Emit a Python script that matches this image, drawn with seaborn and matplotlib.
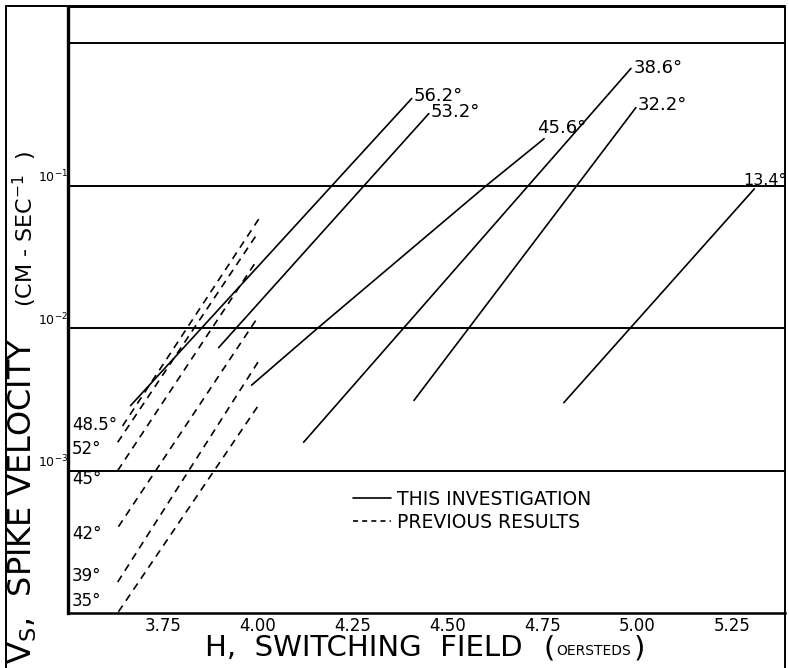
import numpy as np
import pandas as pd
import seaborn as sns
import matplotlib.pyplot as plt
from matplotlib.lines import Line2D

# this investigation (solid), angle labels at the upper end
SOLID_ANGLES = ["56.2°", "53.2°", "45.6°", "38.6°", "32.2°", "13.4°"]
SOLID_H = [
    [3.665, 4.406],
    [3.897, 4.451],
    [3.984, 4.158, 4.602, 4.755],
    [4.121, 4.984],
    [4.412, 4.997],
    [4.807, 5.309],
]
SOLID_V = [
    [2.86e-3, 0.41],
    [7.3e-3, 0.321],
    [3.98e-3, 0.01, 0.1, 0.214],
    [1.58e-3, 0.667],
    [3.11e-3, 0.354],
    [3.0e-3, 0.095],
]

# previous results (dashed), angle labels at the lower end
PREV_ANGLES = ["48.5°", "52°", "45°", "42°", "39°", "35°"]
PREV_H = [
    [3.644, 4.005],
    [3.631, 3.995],
    [3.631, 3.997],
    [3.633, 3.995],
    [3.631, 4.003],
    [3.633, 4.000],
]
PREV_V = [
    [2.06e-3, 0.0596],
    [1.58e-3, 0.0444],
    [1.0e-3, 0.0297],
    [4.04e-4, 0.01135],
    [1.65e-4, 5.9e-3],
    [1.02e-4, 2.82e-3],
]

X_TICKS = [3.75, 4.00, 4.25, 4.50, 4.75, 5.00, 5.25]
X_TICK_LABELS = ["3.75", "4.00", "4.25", "4.50", "4.75", "5.00", "5.25"]
Y_TICKS = [1e-3, 1e-2, 1e-1, 1.0]
Y_TICK_LABELS = [r"$10^{-3}$", r"$10^{-2}$", r"$10^{-1}$", ""]

LEGEND_LABELS = ["THIS INVESTIGATION", "PREVIOUS RESULTS"]

W, H = 789, 668

# label offsets in points (styling only)
SOLID_LABEL_OFFSETS = [(1, 2), (1, 1), (-5, 1), (2, 0), (1, 2), (-8, 1)]
SOLID_LABEL_VA = ["center", "center", "bottom", "center", "center", "bottom"]
SOLID_LABEL_SIZE = [13, 13, 13, 13, 13, 11.5]
PREV_LABEL_OFFSETS = [(0, 1), (0, -5), (0, -6), (0, -5), (0, 4), (0, 8)]


def fx(px):
    return px / W


def fy(py):
    return 1 - py / H


def build_frame():
    rows = []
    for name, hs, vs in zip(SOLID_ANGLES, SOLID_H, SOLID_V):
        for h, v in zip(hs, vs):
            rows.append({"H": h, "V": v, "angle": "s" + name, "source": "this"})
    for name, hs, vs in zip(PREV_ANGLES, PREV_H, PREV_V):
        for h, v in zip(hs, vs):
            rows.append({"H": h, "V": v, "angle": "p" + name, "source": "prev"})
    return pd.DataFrame(rows)


sns.set_style("white")
plt.rcParams["font.family"] = ["DejaVu Sans"]
plt.rcParams["text.color"] = "black"
plt.rcParams["xtick.color"] = "black"
plt.rcParams["ytick.color"] = "black"

fig = plt.figure(figsize=(W / 100, H / 100), dpi=100)
ax = fig.add_axes([fx(68), fy(613), fx(785) - fx(68), fy(7) - fy(613)])

df = build_frame()
sns.lineplot(data=df, x="H", y="V", units="angle", estimator=None, sort=False,
             style="source", dashes={"this": "", "prev": (4.5, 3.5)},
             color="black", linewidth=1.2, legend=False, ax=ax)

ax.set_yscale("log")
ax.set_xlim(3.5, 5.39)
ax.set_ylim(1e-4, 1.8)

for v in Y_TICKS:
    ax.axhline(v, color="black", linewidth=1.4, zorder=1)

ax.set_xticks(X_TICKS)
ax.set_xticklabels(X_TICK_LABELS, fontsize=12)
ax.set_yticks(Y_TICKS)
ax.set_yticklabels(Y_TICK_LABELS, fontsize=9)
ax.yaxis.set_minor_locator(plt.NullLocator())
ax.tick_params(axis="x", direction="inout", length=6, width=1, pad=0)
ax.tick_params(axis="y", length=0, pad=0)
for lbl in ax.get_yticklabels():
    lbl.set_verticalalignment("bottom")
ax.set_xlabel("")
ax.set_ylabel("")

for side in ["left", "bottom", "top", "right"]:
    ax.spines[side].set_visible(True)
    ax.spines[side].set_color("black")
ax.spines["left"].set_linewidth(2.4)
ax.spines["bottom"].set_linewidth(1.8)
ax.spines["top"].set_linewidth(1.4)
ax.spines["right"].set_linewidth(1.4)

# angle labels
for name, hs, vs, off, va, fs in zip(SOLID_ANGLES, SOLID_H, SOLID_V, SOLID_LABEL_OFFSETS,
                                     SOLID_LABEL_VA, SOLID_LABEL_SIZE):
    ax.annotate(name, (hs[-1], vs[-1]), xytext=off, textcoords="offset points",
                ha="left", va=va, fontsize=fs)
for name, vs, off in zip(PREV_ANGLES, PREV_V, PREV_LABEL_OFFSETS):
    ax.annotate(name, (3.5, vs[0]), xytext=(3 + off[0], off[1]), textcoords="offset points",
                ha="left", va="center", fontsize=12)

# legend without frame
handles = [Line2D([], [], color="black", linewidth=1.2),
           Line2D([], [], color="black", linewidth=1.2, linestyle=(0, (3, 2.5)))]
ax.legend(handles, LEGEND_LABELS, loc="upper left", frameon=False, fontsize=13.5,
          handlelength=2.0, handletextpad=0.35, labelspacing=0.2,
          borderpad=0, borderaxespad=0,
          bbox_to_anchor=(fx(353), fy(490)), bbox_transform=fig.transFigure)

# axis titles
fig.text(fx(205), fy(648), "H,  SWITCHING  FIELD", fontsize=21, ha="left", va="center")
fig.text(fx(543), fy(648), "(", fontsize=21, ha="left", va="center")
fig.text(fx(556), fy(651), "OERSTEDS", fontsize=10, ha="left", va="center")
fig.text(fx(634), fy(648), ")", fontsize=21, ha="left", va="center")

fig.text(fx(23), fy(664), r"V$_\mathregular{S}$,  SPIKE VELOCITY", fontsize=23,
         rotation=90, ha="center", va="bottom")
fig.text(fx(25), fy(229), r"(CM - SEC$^{-1}$  )", fontsize=16,
         rotation=90, ha="center", va="center")

# outer frame of the scanned page
fig.add_artist(Line2D([fx(6), fx(6)], [0, fy(6)], color="black", linewidth=1.4))
fig.add_artist(Line2D([fx(6), fx(785)], [fy(6), fy(6)], color="black", linewidth=1.4))
fig.add_artist(Line2D([fx(785), fx(785)], [0, fy(613)], color="black", linewidth=1.4))

fig.savefig("out.png", dpi=100)
